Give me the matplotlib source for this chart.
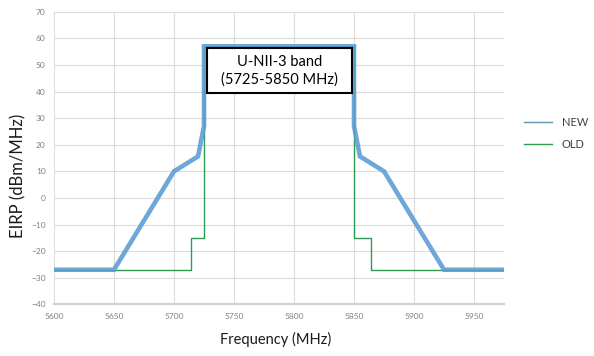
import matplotlib
matplotlib.use('Agg')
import matplotlib.pyplot as plt
from matplotlib.lines import Line2D
from matplotlib.patches import Rectangle

plt.rcParams['font.family'] = ['Lato', 'DejaVu Sans']

# mask data (frequency MHz, EIRP dBm/MHz)
new_freq = [5600, 5650, 5700, 5720, 5725, 5725, 5850, 5850, 5855, 5875, 5925, 5975]
new_eirp = [-27, -27, 10, 15.6, 27, 57, 57, 27, 15.6, 10, -27, -27]
old_freq = [5600, 5714, 5714, 5725, 5725, 5850, 5850, 5864, 5864, 5975]
old_eirp = [-27, -27, -15, -15, 57, 57, -15, -15, -27, -27]

xticks = [5600, 5650, 5700, 5750, 5800, 5850, 5900, 5950]
yticks = [-40, -30, -20, -10, 0, 10, 20, 30, 40, 50, 60, 70]

fig = plt.figure(figsize=(5.94, 3.56), dpi=100)
ax = fig.add_axes([0.0909, 0.1452, 0.7576, 0.8218])

ax.plot(old_freq, old_eirp, color='#2e9b4e', linewidth=1.0, zorder=3)
ax.plot(new_freq, new_eirp, color='#5B9BD5', linewidth=3.3, alpha=0.88,
        solid_joinstyle='miter', zorder=4)

ax.set_xlim(5600, 5975)
ax.set_ylim(-40, 70)
ax.set_xticks(xticks)
ax.set_yticks(yticks)
ax.grid(True, color='#dcdcdc', linewidth=0.8)
ax.set_axisbelow(True)
for s in ['top', 'right', 'left']:
    ax.spines[s].set_visible(False)
ax.spines['bottom'].set_color('#d0d0d0')
ax.spines['bottom'].set_linewidth(1.5)
ax.tick_params(length=0, labelsize=6, labelcolor='#808080', pad=6)

# axis titles
fig.text(276 / 594, 1 - 339 / 356, 'Frequency (MHz)', ha='center', va='center',
         fontsize=10.5, color='#1a1a1a')
fig.text(18 / 594, 1 - 176 / 356, 'EIRP (dBm/MHz)', ha='center', va='center',
         rotation=90, fontsize=12, color='#1a1a1a')

# band annotation box
ax.add_patch(Rectangle((5727.5, 39.4), 120.8, 16.9, facecolor='white',
                       edgecolor='black', linewidth=1.5, zorder=5))
ax.text(5788, 47.8, 'U-NII-3 band\n(5725-5850 MHz)', ha='center', va='center',
        fontsize=10.5, color='black', linespacing=1.25, zorder=6)

handles = [Line2D([], [], color='#5f97b0', linewidth=1.0),
           Line2D([], [], color='#2e9b4e', linewidth=1.0)]
fig.legend(handles, ['NEW', 'OLD'], loc='center left', bbox_to_anchor=(0.882, 0.626),
           frameon=False, fontsize=8, handlelength=2.5, handletextpad=0.9,
           labelspacing=1.0, borderpad=0, borderaxespad=0, labelcolor='#404040')

fig.savefig('out.png', dpi=100)
